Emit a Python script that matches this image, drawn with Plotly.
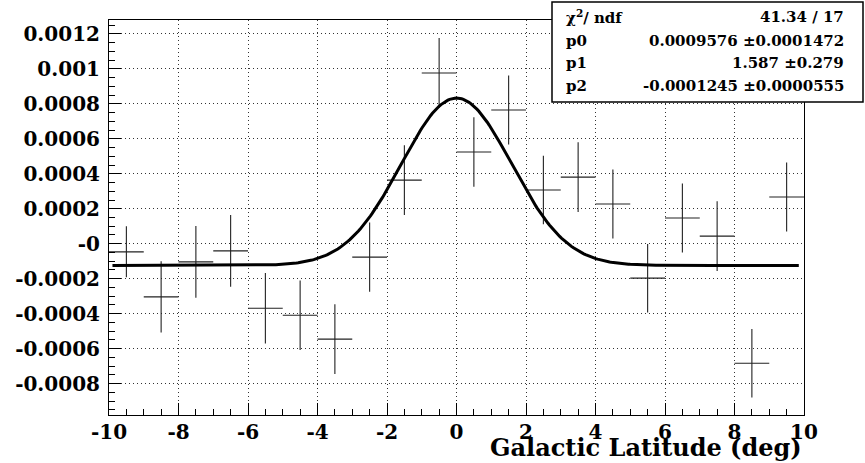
import numpy as np
import plotly.graph_objects as go

# ---- data ----
bin_centers = [-9.5, -8.5, -7.5, -6.5, -5.5, -4.5, -3.5, -2.5, -1.5, -0.5,
               0.5, 1.5, 2.5, 3.5, 4.5, 5.5, 6.5, 7.5, 8.5, 9.5]
values = [-0.0000464, -0.000304, -0.000104, -0.000041, -0.000369, -0.000409,
          -0.000546, -0.000077, 0.000364, 0.000977, 0.000525, 0.000765,
          0.000307, 0.000381, 0.000227, -0.000197, 0.000147, 0.0000435,
          -0.000684, 0.000267]
y_errors = [0.000146, 0.000204, 0.000205, 0.000205, 0.000202, 0.000199,
            0.000200, 0.000198, 0.000200, 0.000200, 0.000199, 0.000198,
            0.000196, 0.000200, 0.000197, 0.000196, 0.000197, 0.000200,
            0.000196, 0.000197]
x_half_width = [0.5] * len(bin_centers)

# fit parameters shown in the stats box
p0, p1, p2 = 0.0009576, 1.587, -0.0001245
stats_labels = ["χ<sup>2</sup>/ ndf", "p0", "p1", "p2"]
stats_values = ["41.34 / 17", "0.0009576 ±0.0001472", "1.587 ±0.279",
                "-0.0001245 ±0.0000555"]

x_ticks = [-10, -8, -6, -4, -2, 0, 2, 4, 6, 8, 10]
x_ticktext = ["-10", "-8", "-6", "-4", "-2", "0", "2", "4", "6", "8", "10"]
y_ticks = [-0.0008, -0.0006, -0.0004, -0.0002, 0.0, 0.0002, 0.0004,
           0.0006, 0.0008, 0.001, 0.0012]
y_ticktext = ["-0.0008", "-0.0006", "-0.0004", "-0.0002", "-0", "0.0002",
              "0.0004", "0.0006", "0.0008", "0.001", "0.0012"]
x_title = "Galactic Latitude (deg)"

# ---- figure ----
W, H = 865, 463
L, R, T, B = 109, 804, 20, 415
FONT = "DejaVu Serif"

def px_x(px):
    return (px - L) / (R - L)

def px_y(py):
    return (B - py) / (B - T)

fit_x = np.linspace(-9.9, 9.85, 400)
fit_y = p0 * np.exp(-0.5 * (fit_x / p1) ** 2) + p2

fig = go.Figure()
fig.add_trace(go.Scatter(
    x=bin_centers, y=values, mode="markers",
    marker=dict(size=1, color="rgba(0,0,0,0)"),
    error_x=dict(type="data", array=x_half_width, width=0, thickness=1.1, color="#222"),
    error_y=dict(type="data", array=y_errors, width=0, thickness=1.1, color="#222"),
    showlegend=False, hoverinfo="skip"))
fig.add_trace(go.Scatter(
    x=fit_x, y=fit_y, mode="lines", line=dict(color="black", width=3),
    showlegend=False, hoverinfo="skip"))

axis_common = dict(
    showline=True, linecolor="black", linewidth=1, mirror=True,
    showgrid=True, gridcolor="#333", griddash="1px,3px", gridwidth=1,
    ticks="inside", ticklen=12, tickcolor="black", tickwidth=1,
    zeroline=False,
    tickfont=dict(family=FONT, size=20, color="black", weight="bold"),
)

fig.update_xaxes(range=[-10, 10], tickvals=x_ticks, ticktext=x_ticktext,
                 minor=dict(dtick=0.5, ticks="inside", ticklen=6, tickcolor="black", showgrid=False),
                 ticklabelstandoff=-1,
                 **axis_common)
fig.update_yaxes(range=[-0.00098, 0.00128], tickvals=y_ticks, ticktext=y_ticktext,
                 minor=dict(dtick=0.00005, ticks="inside", ticklen=6, tickcolor="black", showgrid=False),
                 ticklabelstandoff=4,
                 **axis_common)

# x-axis title, right aligned at end of axis
fig.add_annotation(text=x_title, xref="paper", yref="paper",
                   x=1.0, y=px_y(447), xanchor="right", yanchor="middle",
                   showarrow=False,
                   font=dict(family=FONT, size=24, color="black", weight="bold"))

# stats box
box_l, box_r, box_t, box_b = 552, 863, 2, 102
fig.add_shape(type="rect", xref="paper", yref="paper",
              x0=px_x(box_l), x1=px_x(box_r), y0=px_y(box_b), y1=px_y(box_t),
              line=dict(color="black", width=1.5), fillcolor="white", layer="above")
row_y = [17, 41, 63, 86]
for lab, val, ry in zip(stats_labels, stats_values, row_y):
    fig.add_annotation(text=lab, xref="paper", yref="paper",
                       x=px_x(564), y=px_y(ry), xanchor="left", yanchor="middle",
                       showarrow=False,
                       font=dict(family=FONT, size=15, color="black", weight="bold"))
    fig.add_annotation(text=val, xref="paper", yref="paper",
                       x=px_x(846), y=px_y(ry), xanchor="right", yanchor="middle",
                       showarrow=False,
                       font=dict(family=FONT, size=15, color="black", weight="bold"))

fig.update_layout(
    width=W, height=H,
    margin=dict(l=L, r=W - R, t=T, b=H - B, pad=0),
    paper_bgcolor="white", plot_bgcolor="white",
)

fig.write_html("out.html")
